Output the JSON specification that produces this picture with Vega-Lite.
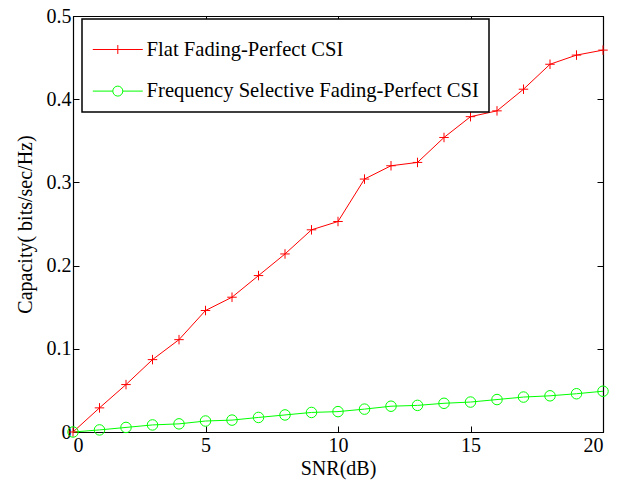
{
  "$schema": "https://vega.github.io/schema/vega-lite/v6.json",
  "width": 530,
  "height": 416,
  "autosize": "none",
  "padding": {"left": 73, "top": 16, "right": 23, "bottom": 52},
  "background": "white",
  "data": {"values": [
    {"snr": 0, "capacity": 0, "series": "Flat Fading-Perfect CSI"},
    {"snr": 1, "capacity": 0.029, "series": "Flat Fading-Perfect CSI"},
    {"snr": 2, "capacity": 0.057, "series": "Flat Fading-Perfect CSI"},
    {"snr": 3, "capacity": 0.087, "series": "Flat Fading-Perfect CSI"},
    {"snr": 4, "capacity": 0.111, "series": "Flat Fading-Perfect CSI"},
    {"snr": 5, "capacity": 0.146, "series": "Flat Fading-Perfect CSI"},
    {"snr": 6, "capacity": 0.162, "series": "Flat Fading-Perfect CSI"},
    {"snr": 7, "capacity": 0.188, "series": "Flat Fading-Perfect CSI"},
    {"snr": 8, "capacity": 0.214, "series": "Flat Fading-Perfect CSI"},
    {"snr": 9, "capacity": 0.243, "series": "Flat Fading-Perfect CSI"},
    {"snr": 10, "capacity": 0.253, "series": "Flat Fading-Perfect CSI"},
    {"snr": 11, "capacity": 0.304, "series": "Flat Fading-Perfect CSI"},
    {"snr": 12, "capacity": 0.320, "series": "Flat Fading-Perfect CSI"},
    {"snr": 13, "capacity": 0.324, "series": "Flat Fading-Perfect CSI"},
    {"snr": 14, "capacity": 0.354, "series": "Flat Fading-Perfect CSI"},
    {"snr": 15, "capacity": 0.379, "series": "Flat Fading-Perfect CSI"},
    {"snr": 16, "capacity": 0.386, "series": "Flat Fading-Perfect CSI"},
    {"snr": 17, "capacity": 0.412, "series": "Flat Fading-Perfect CSI"},
    {"snr": 18, "capacity": 0.442, "series": "Flat Fading-Perfect CSI"},
    {"snr": 19, "capacity": 0.453, "series": "Flat Fading-Perfect CSI"},
    {"snr": 20, "capacity": 0.459, "series": "Flat Fading-Perfect CSI"},
    {"snr": 0, "capacity": 0, "series": "Frequency Selective Fading-Perfect CSI"},
    {"snr": 1, "capacity": 0.0025, "series": "Frequency Selective Fading-Perfect CSI"},
    {"snr": 2, "capacity": 0.0055, "series": "Frequency Selective Fading-Perfect CSI"},
    {"snr": 3, "capacity": 0.0085, "series": "Frequency Selective Fading-Perfect CSI"},
    {"snr": 4, "capacity": 0.0098, "series": "Frequency Selective Fading-Perfect CSI"},
    {"snr": 5, "capacity": 0.0132, "series": "Frequency Selective Fading-Perfect CSI"},
    {"snr": 6, "capacity": 0.0143, "series": "Frequency Selective Fading-Perfect CSI"},
    {"snr": 7, "capacity": 0.0175, "series": "Frequency Selective Fading-Perfect CSI"},
    {"snr": 8, "capacity": 0.0205, "series": "Frequency Selective Fading-Perfect CSI"},
    {"snr": 9, "capacity": 0.0235, "series": "Frequency Selective Fading-Perfect CSI"},
    {"snr": 10, "capacity": 0.0245, "series": "Frequency Selective Fading-Perfect CSI"},
    {"snr": 11, "capacity": 0.0275, "series": "Frequency Selective Fading-Perfect CSI"},
    {"snr": 12, "capacity": 0.031, "series": "Frequency Selective Fading-Perfect CSI"},
    {"snr": 13, "capacity": 0.032, "series": "Frequency Selective Fading-Perfect CSI"},
    {"snr": 14, "capacity": 0.0345, "series": "Frequency Selective Fading-Perfect CSI"},
    {"snr": 15, "capacity": 0.036, "series": "Frequency Selective Fading-Perfect CSI"},
    {"snr": 16, "capacity": 0.039, "series": "Frequency Selective Fading-Perfect CSI"},
    {"snr": 17, "capacity": 0.042, "series": "Frequency Selective Fading-Perfect CSI"},
    {"snr": 18, "capacity": 0.0435, "series": "Frequency Selective Fading-Perfect CSI"},
    {"snr": 19, "capacity": 0.046, "series": "Frequency Selective Fading-Perfect CSI"},
    {"snr": 20, "capacity": 0.049, "series": "Frequency Selective Fading-Perfect CSI"}
  ]},
  "layer": [
    {
      "mark": {"type": "line", "strokeWidth": 1, "clip": false},
      "encoding": {
        "x": {"field": "snr", "type": "quantitative", "scale": {"domain": [0, 20], "nice": false},
              "axis": {"orient": "bottom", "title": "SNR(dB)", "values": [0, 5, 10, 15, 20], "format": "d", "labelPadding": 9, "titlePadding": 3}},
        "y": {"field": "capacity", "type": "quantitative", "scale": {"domain": [0, 0.5], "nice": false},
              "axis": {"orient": "left", "title": "Capacity( bits/sec/Hz)", "values": [0, 0.1, 0.2, 0.3, 0.4, 0.5], "format": "~g", "labelPadding": 8, "titlePadding": 11}},
        "color": {"field": "series", "type": "nominal",
          "scale": {"domain": ["Flat Fading-Perfect CSI", "Frequency Selective Fading-Perfect CSI"], "range": ["#ff0000", "#00ff00"]},
          "legend": {
            "title": null, "orient": "none", "legendX": 9, "legendY": 3, "padding": 10,
            "symbolSize": 1552, "symbolStrokeWidth": 1,
            "rowPadding": 9.6, "labelOffset": 13.6, "labelFont": "Liberation Serif", "labelFontSize": 20.6,
            "labelColor": "black", "labelLimit": 0, "strokeColor": "black", "fillColor": "white",
            "encode": {
              "legend": {"update": {"strokeWidth": {"value": 1.5}}},
              "symbols": {"update": {
                "shape": {"signal": "datum.value === 'Flat Fading-Perfect CSI' ? 'M-1,0H1.538M0.269,-0.228V0.228' : 'M-1,0H0.015M0.523,0H1.538M0.015,0A0.254,0.254 0 1,0 0.523,0A0.254,0.254 0 1,0 0.015,0'"},
                "size": {"value": 1552},
                "fill": {"value": "transparent"},
                "strokeWidth": {"value": 1}
              }}
            }
          }
        }
      }
    },
    {
      "transform": [{"filter": "datum.series === 'Flat Fading-Perfect CSI'"}],
      "mark": {"type": "point", "shape": "M-1,0H1M0,-1V1", "size": 90, "filled": false, "color": "#ff0000", "strokeWidth": 1, "opacity": 1, "clip": false},
      "encoding": {
        "x": {"field": "snr", "type": "quantitative",
              "axis": {"orient": "top", "title": null, "labels": false, "values": [0, 5, 10, 15, 20]}},
        "y": {"field": "capacity", "type": "quantitative",
              "axis": {"orient": "right", "title": null, "labels": false, "values": [0, 0.1, 0.2, 0.3, 0.4, 0.5]}}
      }
    },
    {
      "transform": [{"filter": "datum.series === 'Frequency Selective Fading-Perfect CSI'"}],
      "mark": {"type": "point", "shape": "circle", "size": 110, "filled": false, "color": "#00ff00", "strokeWidth": 1, "opacity": 1, "clip": false},
      "encoding": {
        "x": {"field": "snr", "type": "quantitative", "axis": null},
        "y": {"field": "capacity", "type": "quantitative", "axis": null}
      }
    }
  ],
  "resolve": {"axis": {"x": "independent", "y": "independent"}},
  "config": {
    "view": {"stroke": "black", "strokeWidth": 1},
    "axis": {
      "labelFont": "Liberation Serif", "labelFontSize": 20, "labelColor": "black",
      "titleFont": "Liberation Serif", "titleFontSize": 20, "titleFontWeight": "normal", "titleColor": "black",
      "domainColor": "black", "domainWidth": 1.2, "tickColor": "black", "tickSize": -6, "grid": false
    }
  }
}
